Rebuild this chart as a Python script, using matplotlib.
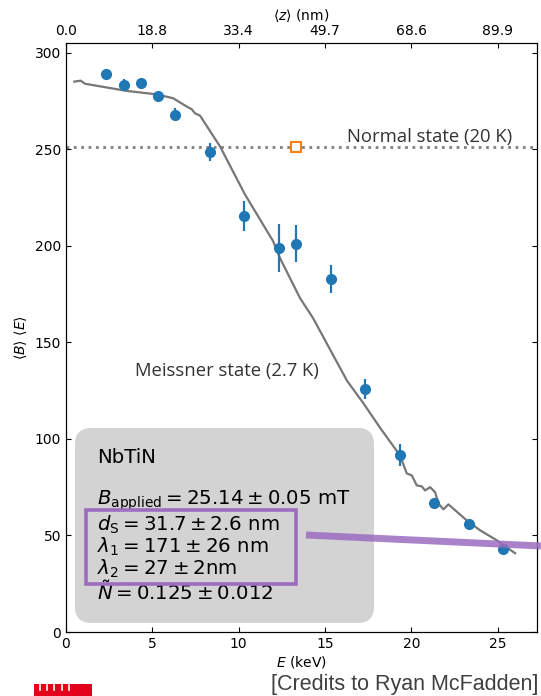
import numpy as np
import matplotlib.pyplot as plt
from matplotlib.patches import FancyBboxPatch, Rectangle
from matplotlib.lines import Line2D

# measured data (2.7 K)
energy = np.array([2.33, 3.33, 4.33, 5.33, 6.33, 8.33, 10.33, 12.33, 13.33,
                   15.33, 17.33, 19.33, 21.33, 23.33, 25.33])
field = np.array([288.7, 283.3, 284.1, 277.6, 267.8, 248.5, 215.3, 198.9, 201.0,
                  182.6, 125.8, 91.7, 66.8, 55.8, 43.2])
field_err = np.array([2.0, 3.3, 2.5, 2.0, 3.4, 4.5, 7.7, 12.5, 9.6,
                      7.3, 5.2, 5.8, 2.5, 2.0, 2.0])

# normal state point (20 K)
normal_E = [13.33]
normal_B = [251.3]

# model curve
model_E = [0.48, 0.85, 1.10, 3.51, 5.25, 6.20, 6.99, 7.28, 7.47, 7.76, 8.92,
           10.36, 11.99, 12.39, 13.55, 14.30, 16.27, 17.20, 18.18, 19.34,
           19.73, 20.02, 20.31, 20.60, 20.79, 21.08, 21.37, 21.56, 21.85,
           22.14, 23.20, 23.97, 24.94, 26.0]
model_B = [285.0, 285.5, 283.9, 280.2, 278.4, 276.4, 272.1, 270.7, 268.6, 267.4,
           251.4, 226.6, 202.4, 193.6, 172.9, 162.6, 130.1, 118.7, 105.8, 91.4,
           82.1, 81.1, 75.9, 75.4, 73.3, 75.0, 72.4, 66.6, 63.5,
           66.1, 57.8, 52.7, 47.5, 40.8]

# top axis: mean depth
depth_ticks = [0, 5, 10, 15, 20, 25]
depth_labels = ['0.0', '18.8', '33.4', '49.7', '68.6', '89.9']

box_lines = [r'$B_{\mathrm{applied}} = 25.14 \pm 0.05$ mT',
             r'$d_{\mathrm{S}} = 31.7 \pm 2.6$ nm',
             r'$\lambda_{1} = 171 \pm 26$ nm',
             r'$\lambda_{2} = 27 \pm 2$nm',
             r'$\tilde{N} = 0.125 \pm 0.012$']

W, H = 541, 696
fig = plt.figure(figsize=(W / 100, H / 100), dpi=100)
ax = fig.add_axes([66 / W, 1 - 632 / H, (537 - 66) / W, (632 - 43) / H])

purple = '#9b6cc0'

ax.axhline(normal_B[0], ls=':', color='gray', lw=2, zorder=1)
ax.plot(model_E, model_B, color='#777777', lw=1.6, zorder=2)
ax.errorbar(energy, field, yerr=field_err, fmt='o', color='#1f77b4',
            ms=7, elinewidth=1.6, capsize=0, zorder=3)
ax.plot(normal_E, normal_B, 's', mfc='white', mec='#ff7f0e', mew=1.5, ms=7, zorder=3)

ax.text(25.82, 253.5, 'Normal state (20 K)', family='Open Sans', fontsize=13.3,
        color='#333333', ha='right', va='baseline')
ax.text(14.65, 132.7, 'Meissner state (2.7 K)', family='Open Sans', fontsize=13.3,
        color='#333333', ha='right', va='baseline')

ax.set_xlim(0, 27.27)
ax.set_ylim(0, 305)
ax.set_yticks([0, 50, 100, 150, 200, 250, 300])
ax.set_xticks([0, 5, 10, 15, 20, 25])
ax.tick_params(direction='in', right=True, labelsize=10)
ax.set_xlabel(r'$E$ (keV)', fontsize=10, labelpad=2)
ax.set_ylabel(r'$\langle B \rangle$ $\langle E \rangle$', fontsize=10)

ax2 = ax.twiny()
ax2.set_xlim(ax.get_xlim())
ax2.set_xticks(depth_ticks)
ax2.set_xticklabels(depth_labels)
ax2.tick_params(direction='in', labelsize=10)
ax2.set_xlabel(r'$\langle z \rangle$ (nm)', fontsize=10, labelpad=3)

# gray info box
box = FancyBboxPatch((75 / W, 1 - 623 / H), (374 - 75) / W, (623 - 428) / H,
                     boxstyle='round,pad=0,rounding_size=0.03',
                     mutation_aspect=W / H, transform=fig.transFigure,
                     facecolor='#d3d3d3', edgecolor='none', zorder=4)
fig.patches.append(box)

fig.text(97 / W, 1 - 463 / H, 'NbTiN', fontsize=14.2, va='baseline', zorder=5)
for txt, yb in zip(box_lines, [505, 531, 552.7, 574.3, 600]):
    fig.text(97 / W, 1 - yb / H, txt, fontsize=14.2, va='baseline', zorder=5)

# purple highlight
fig.patches.append(Rectangle((86 / W, 1 - 584 / H), (296 - 86) / W, (584 - 510) / H,
                             transform=fig.transFigure, fill=False,
                             edgecolor=purple, lw=2.6, zorder=6))
fig.add_artist(Line2D([306 / W, 541 / W], [1 - 535 / H, 1 - 546 / H],
                      transform=fig.transFigure, color=purple, lw=5, alpha=0.85,
                      solid_capstyle='butt', zorder=6))

# logo and credits
fig.patches.append(Rectangle((34 / W, 0), (92 - 34) / W, 12 / H,
                             transform=fig.transFigure, facecolor='#e2001a',
                             edgecolor='none'))
for xl in [40, 47, 54, 62, 69]:
    fig.add_artist(Line2D([xl / W, xl / W], [6 / H, 11 / H],
                          transform=fig.transFigure, color='white', lw=1.2))
fig.text(538 / W, 1 - 690 / H, '[Credits to Ryan McFadden]', family='Liberation Sans',
         fontsize=15.5, color='#404040', ha='right', va='baseline')

fig.savefig('out.png', dpi=100)
